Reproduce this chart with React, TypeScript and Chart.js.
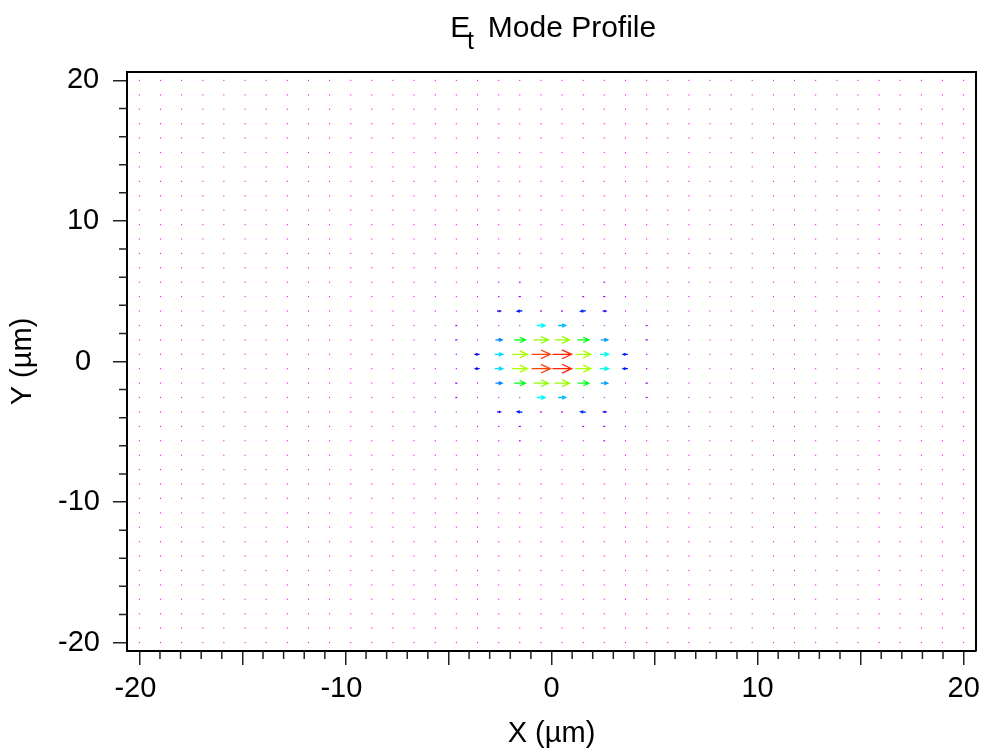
import React, { useEffect, useRef } from "react";
import { Chart, registerables } from "chart.js";

Chart.register(...registerables);

// ---- grid coordinates (µm), 40 samples per axis ----
const GRID = [
  -20, -18.97, -17.95, -16.92, -15.9, -14.87, -13.85, -12.82, -11.79, -10.77,
  -9.74, -8.72, -7.69, -6.67, -5.64, -4.62, -3.59, -2.56, -1.54, -0.51,
  0.51, 1.54, 2.56, 3.59, 4.62, 5.64, 6.67, 7.69, 8.72, 9.74,
  10.77, 11.79, 12.82, 13.85, 14.87, 15.9, 16.92, 17.95, 18.97, 20,
];

// ---- window around the mode where the field is non-negligible ----
const WIN_X = [-6.67, -5.64, -4.62, -3.59, -2.56, -1.54, -0.51, 0.51, 1.54, 2.56, 3.59, 4.62, 5.64, 6.67];
const WIN_Y = [5.64, 4.62, 3.59, 2.56, 1.54, 0.51, -0.51, -1.54, -2.56, -3.59, -4.62, -5.64];

// normalized Ex (rows follow WIN_Y, columns follow WIN_X)
const FIELD_U = [
  [0.02, 0.05, 0.02, 0.02, 0.06, 0.09, 0.05, 0.05, 0.05, 0.09, 0.02, 0.02, 0.02, 0.05],
  [0.02, 0.05, 0.02, 0.02, 0.07, 0.11, 0.06, 0.05, 0.1, 0.11, 0.06, 0.02, 0.02, 0.04],
  [0.03, 0.05, 0.03, 0.04, 0.18, -0.26, 0.1, 0.1, -0.27, 0.18, 0.04, 0.05, 0.03, 0.03],
  [0.02, 0.04, 0.1, 0.03, 0.05, 0.04, 0.44, 0.4, 0.05, 0.04, 0.04, 0.1, 0.03, 0.03],
  [0.03, 0.06, 0.12, 0.05, 0.35, 0.6, 0.77, 0.78, 0.6, 0.37, 0.05, 0.12, 0.04, 0.03],
  [0.03, 0.05, 0.06, -0.22, 0.42, 0.8, 0.98, 1.0, 0.8, 0.46, -0.25, 0.07, 0.04, 0.03],
  [0.03, 0.05, 0.06, -0.22, 0.42, 0.8, 0.98, 1.0, 0.8, 0.46, -0.25, 0.07, 0.04, 0.03],
  [0.03, 0.06, 0.12, 0.05, 0.35, 0.6, 0.77, 0.78, 0.6, 0.37, 0.05, 0.12, 0.04, 0.03],
  [0.02, 0.04, 0.1, 0.03, 0.05, 0.04, 0.44, 0.4, 0.05, 0.04, 0.04, 0.1, 0.03, 0.03],
  [0.03, 0.05, 0.03, 0.04, 0.18, -0.26, 0.1, 0.1, -0.27, 0.18, 0.04, 0.05, 0.03, 0.03],
  [0.02, 0.05, 0.02, 0.02, 0.07, 0.11, 0.06, 0.05, 0.1, 0.11, 0.06, 0.02, 0.02, 0.04],
  [0.02, 0.05, 0.02, 0.02, 0.06, 0.09, 0.05, 0.05, 0.05, 0.09, 0.02, 0.02, 0.02, 0.05],
];

// normalized Ey (same layout)
const FIELD_V = [
  [0, 0, 0, 0, 0, 0, 0, 0, 0, 0, 0, 0, 0, 0],
  [0, 0, 0, 0, 0, 0, 0, 0, 0, 0, 0, 0, 0, 0],
  [0, 0, 0, 0, 0, -0.03, 0, 0, -0.03, 0, 0, 0, 0, 0],
  [0, 0, 0, 0, 0, 0, 0, 0, 0, 0, 0, 0, 0, 0],
  [0, 0, 0, 0, 0, 0, 0, 0, 0, 0, 0, 0, 0, 0],
  [0, 0, 0, 0, 0, 0, 0, 0, 0, 0, 0, 0, 0, 0],
  [0, 0, 0, 0, 0, 0, 0, 0, 0, 0, 0, 0, 0, 0],
  [0, 0, 0, 0, 0, 0, 0, 0, 0, 0, 0, 0, 0, 0],
  [0, 0, 0, 0, 0, 0, 0, 0, 0, 0, 0, 0, 0, 0],
  [0, 0, 0, 0, 0, 0.03, 0, 0, 0.03, 0, 0, 0, 0, 0],
  [0, 0, 0, 0, 0, 0, 0, 0, 0, 0, 0, 0, 0, 0],
  [0, 0, 0, 0, 0, 0, 0, 0, 0, 0, 0, 0, 0, 0],
];

const X_LABELED_TICKS = [-20, -10, 0, 10, 20];
const Y_LABELED_TICKS = [-20, -10, 0, 10, 20];
const TITLE_MAIN = "E";
const TITLE_SUB = "t";
const TITLE_REST = "Mode Profile";
const X_TITLE = "X (\u00b5m)";
const Y_TITLE = "Y (\u00b5m)";

const FONT = "'Liberation Sans', Arial, sans-serif";
const HUE_STOPS: [number, number][] = [
  [0, 300], [0.1, 275], [0.25, 235], [0.4, 195], [0.6, 125], [0.8, 80], [1, 8],
];

function colorFor(m: number) {
  const v = Math.max(0, Math.min(1, m));
  let h = HUE_STOPS[HUE_STOPS.length - 1][1];
  for (let i = 0; i < HUE_STOPS.length - 1; i++) {
    const [a, ha] = HUE_STOPS[i];
    const [b, hb] = HUE_STOPS[i + 1];
    if (v <= b) {
      h = ha + ((v - a) / (b - a)) * (hb - ha);
      break;
    }
  }
  return `hsl(${h.toFixed(1)}, 100%, 50%)`;
}

function buildPoints() {
  const pts: { x: number; y: number; u: number; v: number }[] = [];
  for (const y of GRID) {
    for (const x of GRID) {
      const ci = WIN_X.findIndex((w) => Math.abs(w - x) < 0.005);
      const ri = WIN_Y.findIndex((w) => Math.abs(w - y) < 0.005);
      const inside = ci >= 0 && ri >= 0;
      pts.push({ x, y, u: inside ? FIELD_U[ri][ci] : 0, v: inside ? FIELD_V[ri][ci] : 0 });
    }
  }
  return pts;
}

const quiverPlugin = {
  id: "quiver",
  afterDatasetsDraw(chart: any) {
    const meta = chart.getDatasetMeta(0);
    const data = chart.data.datasets[0].data as any[];
    const xs = chart.scales.x;
    const spacing = xs.getPixelForValue(GRID[1]) - xs.getPixelForValue(GRID[0]);
    const maxLen = spacing * 0.9;
    const ctx = chart.ctx as CanvasRenderingContext2D;
    ctx.save();
    meta.data.forEach((el: any, i: number) => {
      const p = data[i];
      const m = Math.hypot(p.u, p.v);
      const len = m * maxLen;
      const col = colorFor(m);
      if (len < 2.5) {
        const w = Math.max(1, len);
        ctx.fillStyle = col;
        ctx.fillRect(el.x - w / 2, el.y - 0.6, w, 1.2);
        return;
      }
      const dx = p.u / m;
      const dy = -p.v / m;
      const x0 = el.x - (dx * len) / 2;
      const y0 = el.y - (dy * len) / 2;
      const x1 = el.x + (dx * len) / 2;
      const y1 = el.y + (dy * len) / 2;
      const hl = len * 0.5;
      const hw = len * 0.23;
      ctx.strokeStyle = col;
      ctx.lineWidth = 1.3;
      ctx.beginPath();
      ctx.moveTo(x0, y0);
      ctx.lineTo(x1, y1);
      ctx.moveTo(x1 - dx * hl - dy * hw, y1 - dy * hl + dx * hw);
      ctx.lineTo(x1, y1);
      ctx.lineTo(x1 - dx * hl + dy * hw, y1 - dy * hl - dx * hw);
      ctx.stroke();
    });
    ctx.restore();
  },
};

const framePlugin = {
  id: "frame",
  afterDraw(chart: any) {
    const { ctx, chartArea } = chart;
    const xs = chart.scales.x;
    const ys = chart.scales.y;
    ctx.save();
    // top and right border
    ctx.strokeStyle = "#000";
    ctx.lineWidth = 2;
    ctx.beginPath();
    ctx.moveTo(chartArea.left, chartArea.top);
    ctx.lineTo(chartArea.right, chartArea.top);
    ctx.lineTo(chartArea.right, chartArea.bottom);
    ctx.stroke();
    // minor ticks
    ctx.strokeStyle = "#222";
    ctx.lineWidth = 1.5;
    ctx.beginPath();
    for (let v = -20; v <= 20; v += 1) {
      if (v % 5 === 0) continue;
      const px = xs.getPixelForValue(v);
      ctx.moveTo(px, chartArea.bottom);
      ctx.lineTo(px, chartArea.bottom + 8);
    }
    for (let v = -20; v <= 20; v += 2) {
      if (v % 10 === 0) continue;
      const py = ys.getPixelForValue(v);
      ctx.moveTo(chartArea.left, py);
      ctx.lineTo(chartArea.left - 8, py);
    }
    ctx.stroke();
    // title with subscript
    const cx = (chartArea.left + chartArea.right) / 2;
    ctx.fillStyle = "#000";
    ctx.textAlign = "left";
    ctx.textBaseline = "alphabetic";
    ctx.font = `30px ${FONT}`;
    ctx.fillText(TITLE_MAIN, cx - 101.2, 37.3);
    ctx.fillText(TITLE_REST, cx - 63.7, 37.3);
    ctx.font = `25px ${FONT}`;
    ctx.fillText(TITLE_SUB, cx - 84.6, 49);
    ctx.restore();
  },
};

function fmt(labeled: number[]) {
  return (value: any) => {
    const v = Number(value);
    if (!labeled.some((t) => Math.abs(t - v) < 1e-6)) return "";
    return v < 0 ? `${v} ` : `${v}`;
  };
}

export default function App() {
  const ref = useRef<HTMLCanvasElement | null>(null);
  useEffect(() => {
    if (!ref.current) return;
    const chart = new Chart(ref.current, {
      type: "scatter",
      data: {
        datasets: [
          {
            data: buildPoints() as any,
            pointRadius: 0,
            pointHoverRadius: 0,
            showLine: false,
          },
        ],
      },
      options: {
        responsive: false,
        animation: false,
        events: [],
        layout: { padding: { top: 72, right: 7, left: 0, bottom: 0 } },
        plugins: {
          legend: { display: false },
          tooltip: { enabled: false },
          title: { display: false },
        },
        scales: {
          x: {
            type: "linear",
            position: "bottom",
            min: -20.6,
            max: 20.6,
            afterFit: (s: any) => {
              s.height = 100;
              s.paddingLeft = 0;
              s.paddingRight = 0;
            },
            border: { display: true, color: "#000", width: 2 },
            grid: { drawOnChartArea: false, drawTicks: true, tickLength: 14, color: "#222", lineWidth: 1.5 },
            ticks: {
              stepSize: 5,
              autoSkip: false,
              maxRotation: 0,
              includeBounds: false,
              padding: 7,
              color: "#000",
              font: { family: FONT, size: 29 },
              callback: fmt(X_LABELED_TICKS),
            },
            title: {
              display: true,
              text: X_TITLE,
              color: "#000",
              font: { family: FONT, size: 29 },
              padding: { top: 0, bottom: 0 },
            },
          },
          y: {
            type: "linear",
            position: "left",
            min: -20.6,
            max: 20.6,
            afterFit: (s: any) => {
              s.width = 127;
              s.paddingTop = 0;
              s.paddingBottom = 0;
            },
            border: { display: true, color: "#000", width: 2 },
            grid: { drawOnChartArea: false, drawTicks: true, tickLength: 14, color: "#222", lineWidth: 1.5 },
            ticks: {
              stepSize: 10,
              autoSkip: false,
              includeBounds: false,
              crossAlign: "center",
              padding: 5,
              color: "#000",
              font: { family: FONT, size: 29 },
              callback: fmt(Y_LABELED_TICKS),
            },
            title: {
              display: true,
              text: Y_TITLE,
              color: "#000",
              font: { family: FONT, size: 29 },
              padding: { top: 6, bottom: 0 },
            },
          },
        },
      },
      plugins: [quiverPlugin, framePlugin],
    });
    return () => chart.destroy();
  }, []);

  return (
    <div style={{ position: "fixed", left: 0, top: 0, width: 983, height: 751, background: "#fff" }}>
      <canvas ref={ref} width={983} height={751} style={{ display: "block" }} />
    </div>
  );
}
